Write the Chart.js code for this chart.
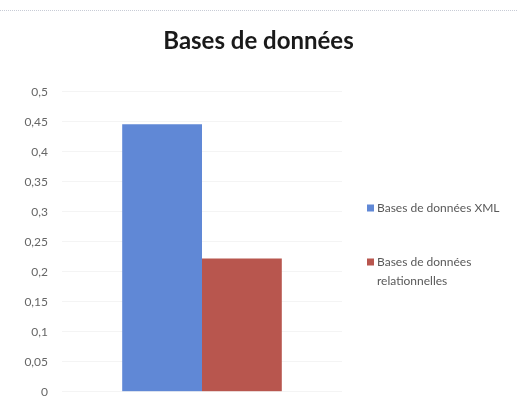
<!DOCTYPE html>
<html>
<head>
<meta charset="utf-8">
<script src="https://cdn.jsdelivr.net/npm/chart.js@4.4.1/dist/chart.umd.min.js"></script>
<style>
  html, body { margin: 0; padding: 0; background: #fff; }
  #wrap { position: relative; width: 517px; height: 413px; }
  #scanline { position: absolute; left: 0; top: 10px; width: 517px; border-top: 1px dotted #c8ccd6; }
</style>
</head>
<body>
<div id="wrap">
  <div id="scanline"></div>
  <canvas id="chart" width="517" height="413"></canvas>
</div>
<script>
const chartTitle = 'Bases de données';
const categories = [''];
const seriesNames = [['Bases de données XML'], ['Bases de données', 'relationnelles']];
const seriesValues = [[0.446], [0.222]];
const seriesColors = ['#6088d6', '#b8564e'];
const yTickLabels = ['0', '0,05', '0,1', '0,15', '0,2', '0,25', '0,3', '0,35', '0,4', '0,45', '0,5'];

// legend on the right, drawn by hand so the second label can wrap
const sideLegend = {
    id: 'sideLegend',
    afterDraw(chart) {
        const ctx = chart.ctx;
        const x = 367;
        const tops = [208, 262];
        ctx.save();
        ctx.font = '12px Lato, "Open Sans", sans-serif';
        ctx.textBaseline = 'middle';
        chart.data.datasets.forEach((ds, i) => {
            ctx.fillStyle = ds.backgroundColor;
            ctx.fillRect(x, tops[i] - 3.5, 7, 7);
            ctx.fillStyle = '#595959';
            ds.label.forEach((line, j) => {
                ctx.fillText(line, x + 10, tops[i] + j * 19);
            });
        });
        ctx.restore();
    }
};

const ctx = document.getElementById('chart').getContext('2d');
new Chart(ctx, {
    type: 'bar',
    data: {
        labels: categories,
        datasets: seriesValues.map((vals, i) => ({
            label: seriesNames[i],
            data: vals,
            backgroundColor: seriesColors[i],
            barPercentage: 1,
            categoryPercentage: 0.57
        }))
    },
    options: {
        responsive: false,
        animation: false,
        layout: { padding: { left: 0, right: 0, top: 0, bottom: 19 } },
        plugins: {
            legend: { display: false },
            tooltip: { enabled: false },
            title: {
                display: true,
                text: chartTitle,
                color: '#1a1a1a',
                font: { family: 'Lato, "Open Sans", sans-serif', size: 24, weight: 'bold', lineHeight: 1.2 },
                padding: { top: 27, bottom: 36 }
            }
        },
        scales: {
            x: { display: false },
            y: {
                min: 0,
                max: 0.5,
                border: { display: false },
                grid: { color: 'rgba(0,0,0,0.045)', drawTicks: false },
                ticks: {
                    stepSize: 0.05,
                    padding: 14,
                    color: '#666',
                    font: { family: 'Lato, "Open Sans", sans-serif', size: 12 },
                    callback: (v, i) => yTickLabels[i]
                },
                afterFit(scale) { scale.width = 62; }
            },
            spacer: {
                position: 'right',
                grid: { display: false },
                border: { display: false },
                ticks: { display: false },
                afterFit(scale) { scale.width = 175; }
            }
        }
    },
    plugins: [sideLegend]
});
</script>
</body>
</html>
